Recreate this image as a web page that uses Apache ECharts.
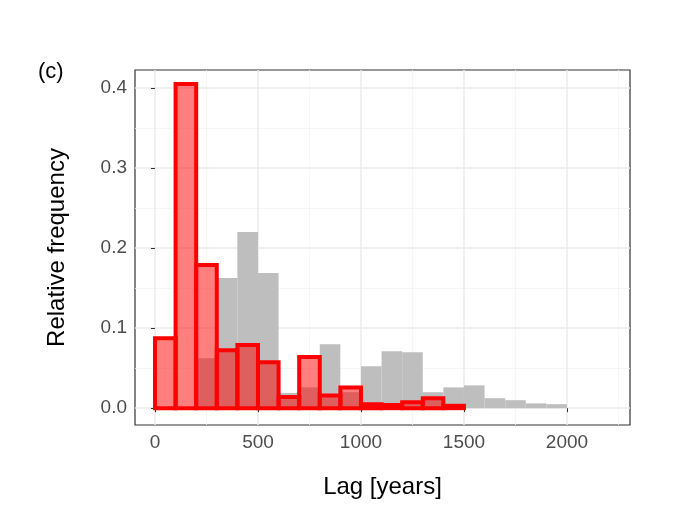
<!DOCTYPE html><html><head><meta charset="utf-8"><script src="https://cdn.jsdelivr.net/npm/echarts@6/dist/echarts.min.js"></script></head><body style="margin:0"><div id="c" style="width:682px;height:520px"></div><script>
const binStarts=[0,100,200,300,400,500,600,700,800,900,1000,1100,1200,1300,1400,1500,1600,1700,1800,1900];
const grayVals=[0,0,0.0625,0.1625,0.22,0.169,0.019,0.026,0.08,0.02,0.0525,0.071,0.07,0.02,0.026,0.0285,0.0125,0.01,0.006,0.005];
const redVals=[0.0875,0.405,0.179,0.0725,0.079,0.0575,0.014,0.064,0.016,0.026,0.005,0.004,0.0075,0.0125,0.003];
const xTicks=[0,500,1000,1500,2000];
const xMinor=[250,750,1250,1750,2250];
const yTicks=[0,0.1,0.2,0.3,0.4];
const yMinor=[0.05,0.15,0.25,0.35];
const BW=100;
function rect(vals){return binStarts.slice(0,vals.length).map((s,i)=>[s,s+BW,vals[i]]);}
function ri(style){return function(p,api){const a=api.coord([api.value(0),api.value(2)]);const b=api.coord([api.value(1),0]);return {type:'rect',shape:{x:a[0],y:a[1],width:b[0]-a[0],height:b[1]-a[1]},style:style};};}
const lab={color:'#4d4d4d',fontSize:19,fontFamily:'Liberation Sans'};
const xr={min:-97,max:2306},yr={min:-0.021,max:0.4225};
const chart=echarts.init(document.getElementById('c'));
chart.setOption({animation:false,
title:{text:'(c)',left:33,top:56,textStyle:{fontSize:22,fontWeight:'normal',color:'#000',fontFamily:'Liberation Sans'}},
grid:{left:135,right:52,top:70,bottom:95,show:true,borderColor:'#333',borderWidth:1.2},
xAxis:[{type:'value',...xr,name:'Lag [years]',nameLocation:'middle',nameGap:50,nameTextStyle:{fontSize:24,color:'#000',fontFamily:'Liberation Sans'},
 axisLine:{show:false},axisTick:{show:true,customValues:xTicks,length:4,lineStyle:{color:'#333'}},axisLabel:{...lab,customValues:xTicks,margin:8,formatter:v=>String(v)},splitLine:{show:true,lineStyle:{color:'#ebebeb',width:1.5}}},
 {type:'value',...xr,show:true,axisLine:{show:false},axisTick:{show:false,customValues:xMinor},axisLabel:{show:false,customValues:xMinor},splitLine:{show:true,lineStyle:{color:'#f4f4f4',width:0.8}}}],
yAxis:[{type:'value',...yr,name:'Relative frequency',nameLocation:'middle',nameGap:66,nameTextStyle:{fontSize:24,color:'#000',fontFamily:'Liberation Sans'},
 axisLine:{show:false},axisTick:{show:true,customValues:yTicks,length:4,lineStyle:{color:'#333'}},axisLabel:{...lab,customValues:yTicks,formatter:v=>v.toFixed(1),margin:8},splitLine:{show:true,lineStyle:{color:'#ebebeb',width:1.5}}},
 {type:'value',...yr,show:true,axisLine:{show:false},axisTick:{show:false,customValues:yMinor},axisLabel:{show:false,customValues:yMinor},splitLine:{show:true,lineStyle:{color:'#f4f4f4',width:0.8}}}],
series:[
{type:'custom',renderItem:ri({fill:'#bebebe'}),data:rect(grayVals),encode:{x:[0,1],y:2},clip:true},
{type:'custom',renderItem:ri({fill:'rgba(255,0,0,0.5)',stroke:'#ff0000',lineWidth:4}),data:rect(redVals),encode:{x:[0,1],y:2},clip:true}
]});
</script></body></html>
